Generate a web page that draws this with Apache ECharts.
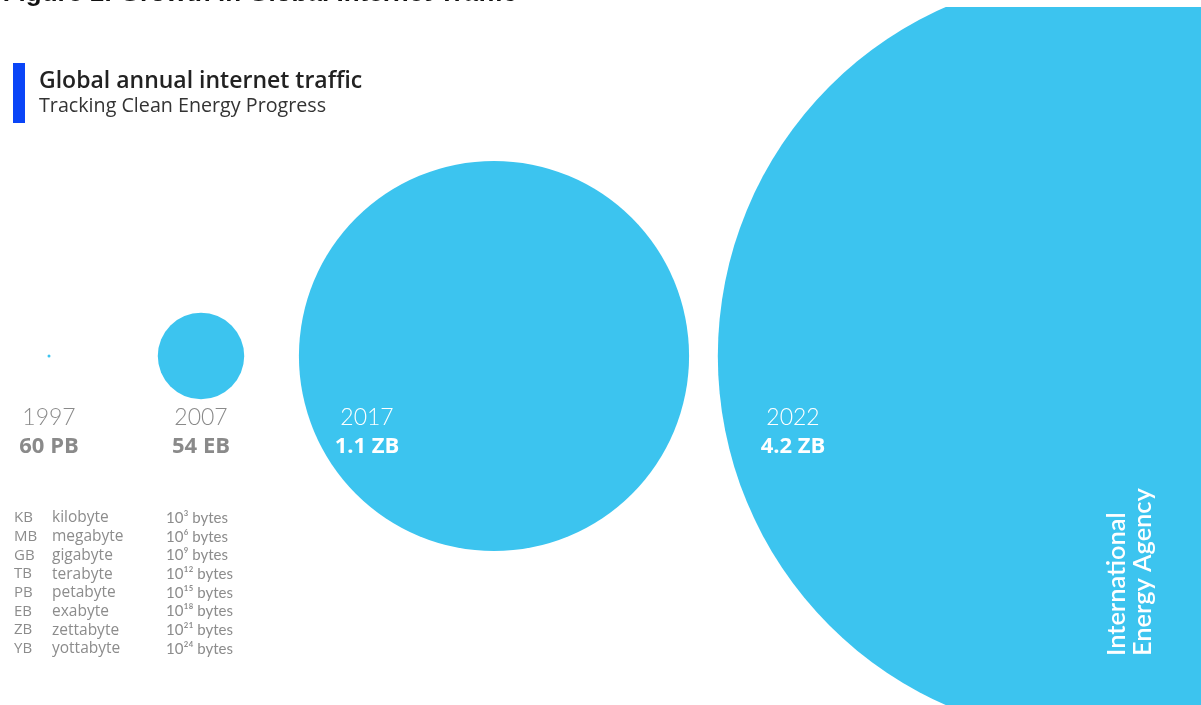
<!DOCTYPE html>
<html>
<head>
<meta charset="utf-8">
<script src="https://cdn.jsdelivr.net/npm/echarts@6/dist/echarts.min.js"></script>
<style>html,body{margin:0;padding:0;background:#fff;}#c{width:1201px;height:705px;}</style>
</head>
<body>
<div id="c"></div>
<script>
// ---- data ----
const years = ['1997', '2007', '2017', '2022'];
const trafficPB = [60, 54000, 1100000, 4200000];   // petabytes
const trafficLabels = ['60 PB', '54 EB', '1.1 ZB', '4.2 ZB'];
const unitAbbr = ['KB', 'MB', 'GB', 'TB', 'PB', 'EB', 'ZB', 'YB'];
const unitName = ['kilobyte', 'megabyte', 'gigabyte', 'terabyte', 'petabyte', 'exabyte', 'zettabyte', 'yottabyte'];
const unitExp = ['³', '⁶', '⁹', '¹²', '¹⁵', '¹⁸', '²¹', '²⁴'];

// ---- layout ----
const centerX = [49, 201, 494, 1099];
const centerY = 356;
const labelDX = [0, 0, -127, -306];
const labelColor = ['#8a8a8a', '#8a8a8a', '#ffffff', '#ffffff'];
const sizeK = 0.372;
const FONT = 'Lato, "Noto Sans", sans-serif';
const FONT2 = '"Open Sans", "Noto Sans", sans-serif';

const chart = echarts.init(document.getElementById('c'), null, {renderer: 'canvas'});

const seriesData = years.map((y, i) => ({
  value: [centerX[i], centerY, trafficPB[i]],
  label: {
    show: true,
    position: 'inside',
    offset: [labelDX[i], 76],
    formatter: '{y|' + y + '}\n{v|' + trafficLabels[i] + '}',
    rich: {
      y: {fontSize: 23, fontFamily: FONT, fontWeight: 300, color: labelColor[i], lineHeight: 29, align: 'center'},
      v: {fontSize: 22, fontFamily: FONT2, fontWeight: 'bold', color: labelColor[i], lineHeight: 29, align: 'center'}
    }
  }
}));

const graphics = [
  {type: 'rect', z: 50, shape: {x: 0, y: 0, width: 1201, height: 7}, style: {fill: '#ffffff'}},
  {type: 'text', z: 60, x: 517, y: 6.5, style: {text: 'Figure 1: Growth in Global Internet Traffic', textAlign: 'right', textVerticalAlign: 'bottom', font: 'bold 26px "Liberation Sans", Arial, sans-serif', fill: '#111'}},
  {type: 'rect', shape: {x: 13, y: 63, width: 12, height: 60}, style: {fill: '#0a45f7'}},
  {type: 'text', x: 39, y: 81, style: {text: 'Global annual internet traffic', textVerticalAlign: 'middle', font: '600 23px ' + FONT2, fill: '#222'}},
  {type: 'text', x: 39, y: 106, style: {text: 'Tracking Clean Energy Progress', textVerticalAlign: 'middle', font: '19.7px ' + FONT2, fill: '#333'}},
  {type: 'text', x: 1130, y: 656, rotation: Math.PI / 2, z: 100,
   style: {text: 'International\nEnergy Agency', textAlign: 'left', textVerticalAlign: 'middle', font: '600 25.4px ' + FONT, lineHeight: 26, fill: '#ffffff'}}
];
unitAbbr.forEach((a, i) => {
  const y = 518 + i * 18.7;
  graphics.push({type: 'text', x: 14, y: y, style: {text: a, textVerticalAlign: 'middle', font: '15px ' + FONT2, fill: '#8c8c8c'}});
  graphics.push({type: 'text', x: 52, y: y, style: {text: unitName[i], textVerticalAlign: 'middle', font: '15.5px ' + FONT2, fill: '#8c8c8c'}});
  graphics.push({type: 'text', x: 166, y: y, style: {text: '10' + unitExp[i] + ' bytes', textVerticalAlign: 'middle', font: '15px ' + FONT, fill: '#8c8c8c'}});
});

chart.setOption({
  animation: false,
  backgroundColor: '#ffffff',
  grid: {left: 0, right: 0, top: 7, bottom: 0, containLabel: false},
  xAxis: {type: 'value', min: 0, max: 1201, show: false},
  yAxis: {type: 'value', min: 7, max: 705, inverse: true, show: false},
  series: [{
    type: 'scatter',
    clip: true,
    data: seriesData,
    symbol: 'circle',
    symbolSize: v => Math.max(3, sizeK * Math.sqrt(v[2])),
    itemStyle: {color: '#3cc4ef', opacity: 1},
    emphasis: {disabled: true}
  }],
  graphic: graphics
});
</script>
</body>
</html>
